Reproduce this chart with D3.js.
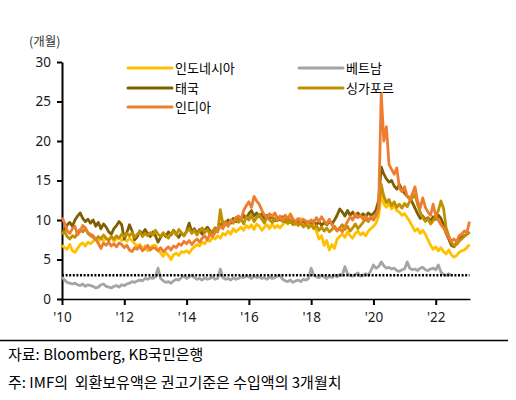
<!DOCTYPE html>
<html><head><meta charset="utf-8">
<script src="https://cdn.jsdelivr.net/npm/d3@7"></script>
<style>
html,body{margin:0;padding:0;background:#fff;}
svg{display:block;font-family:"Noto Sans CJK KR","Noto Sans",sans-serif;}
</style></head>
<body><svg id="c" width="516" height="400"></svg>
<script>
// Monthly data, starting Jan 2010
const startYear = 2010;
const indonesia = [
6.8,6.5,6.3,6.9,6.1,5.9,6.4,6.9,7.1,6.7,7.2,7.0,
7.3,7.6,7.2,7.8,7.4,7.7,7.5,7.9,7.3,7.6,7.8,7.4,
7.6,7.3,7.7,7.4,7.0,6.6,6.9,6.3,6.7,6.1,6.5,6.8,
6.8,6.2,5.8,5.4,5.9,5.5,5.0,5.6,5.8,5.5,6.0,5.9,
6.1,5.8,6.3,6.6,6.9,6.7,7.2,7.0,7.5,7.3,7.8,7.6,
8.0,7.7,8.3,8.1,8.6,8.2,8.9,8.5,8.8,9.1,8.7,9.3,
9.0,9.4,8.8,9.5,9.2,8.7,9.1,9.4,8.9,9.5,9.0,9.3,
9.0,9.4,9.8,9.5,10.8,10.0,9.4,9.8,10.2,9.6,9.9,9.5,
9.8,9.2,8.6,7.6,8.0,6.8,7.4,6.2,6.9,6.4,7.6,7.9,
8.2,7.8,8.5,8.0,7.7,8.3,8.6,8.1,8.4,8.0,8.6,8.9,
9.2,9.6,10.5,13.5,12.0,11.6,12.2,11.4,11.8,11.2,11.0,10.6,
10.8,10.3,9.8,9.2,8.6,8.9,8.3,8.7,8.2,7.5,6.8,6.3,
6.6,6.1,6.5,6.0,5.7,6.2,5.6,5.3,5.5,5.9,6.1,6.2,
6.5,6.9];
const vietnam = [
2.8,2.4,2.1,2.0,1.9,2.0,1.8,1.7,1.9,1.6,1.8,1.7,
1.6,1.4,1.5,1.8,1.9,1.6,1.5,1.4,1.6,1.7,1.5,1.8,
1.7,1.9,2.0,2.2,2.1,2.3,2.4,2.3,2.6,2.5,2.7,2.6,
2.8,3.9,2.6,2.3,2.1,2.2,2.0,2.3,2.5,2.4,2.7,2.9,
2.6,2.8,3.0,2.7,2.5,2.6,2.4,2.7,2.5,2.6,2.8,2.5,
2.6,3.8,2.7,2.5,2.6,2.4,2.7,2.5,2.6,2.8,2.7,2.9,
2.8,2.6,2.9,2.7,2.8,2.6,2.7,2.5,2.8,2.6,2.7,2.9,
3.0,2.5,2.3,2.2,2.4,2.1,2.3,2.4,2.2,2.5,2.4,2.6,
3.9,3.0,2.8,2.7,3.0,2.8,2.6,2.9,2.7,3.0,2.8,3.1,
3.0,4.1,3.2,3.0,2.9,3.1,3.3,2.9,3.0,3.2,3.0,3.6,
4.3,3.9,4.1,4.7,4.2,3.9,4.0,3.8,3.9,3.6,3.5,3.7,
3.8,4.7,3.9,3.7,3.8,3.6,3.9,4.0,3.7,3.6,3.8,3.9,
3.7,4.3,3.4,3.1,3.0,3.2,3.0];
const thailand = [
8.4,8.8,9.4,9.7,9.2,10.0,10.5,10.9,10.2,9.8,10.1,9.6,
10.0,9.2,9.7,8.9,9.5,9.1,8.5,8.2,8.9,9.3,9.8,9.4,
7.6,8.4,9.4,8.6,7.5,7.9,8.6,8.2,8.8,8.3,7.9,8.5,
8.0,7.2,7.8,8.3,7.9,8.5,8.1,8.7,8.2,7.8,8.4,8.0,
8.6,9.6,8.5,8.9,8.3,8.8,8.2,8.7,9.1,8.6,8.4,9.0,
8.7,9.3,9.8,9.4,10.0,9.6,10.2,9.8,10.4,10.0,10.6,10.2,
10.8,11.2,10.5,10.9,10.4,10.8,10.2,10.6,10.1,10.5,9.9,10.3,
10.0,10.4,9.8,10.2,9.7,10.1,9.6,10.0,9.5,9.9,9.6,9.8,
9.5,9.9,9.4,9.8,9.3,9.7,9.4,9.8,9.5,10.0,10.6,11.4,
11.0,10.5,11.2,10.6,11.0,10.4,10.9,10.5,10.8,10.4,10.9,10.6,
10.8,11.3,12.5,16.7,15.8,15.2,14.8,15.0,14.3,13.9,14.5,13.8,
13.4,13.0,12.8,12.2,11.5,10.8,10.2,10.5,10.0,10.3,9.9,10.4,
10.1,10.6,10.2,9.4,8.3,7.6,6.8,6.6,7.1,7.5,7.8,8.0,
8.2,8.5];
const singapore = [
8.2,8.5,7.9,7.6,8.0,7.8,8.4,8.8,8.5,8.9,8.3,8.0,
7.8,7.5,7.9,7.6,8.1,7.7,7.4,7.9,7.6,8.0,7.7,8.2,
7.9,8.3,8.0,8.4,7.8,8.2,8.5,7.9,8.3,8.0,8.4,8.1,
8.7,8.2,7.9,8.4,8.0,7.7,8.3,8.6,8.1,8.8,8.4,8.0,
8.5,8.9,8.3,8.7,8.1,8.6,9.0,8.4,8.8,8.2,8.6,8.9,
8.5,11.3,9.4,9.8,9.2,10.0,9.6,10.3,9.7,10.1,9.5,10.4,
10.0,10.6,9.8,10.3,10.7,10.1,9.6,10.4,10.0,9.7,10.2,9.9,
10.3,9.8,10.1,9.6,10.0,9.4,9.8,9.3,9.7,9.1,9.5,9.0,
9.4,8.9,9.3,8.7,9.1,8.6,9.0,8.5,8.8,9.2,8.7,9.0,
9.4,8.8,9.2,8.6,9.0,9.5,8.9,9.3,9.7,10.1,9.8,10.3,
10.0,10.5,11.5,14.5,13.0,12.2,12.6,11.8,12.3,11.6,12.0,11.5,
12.1,11.7,12.4,12.8,13.2,12.0,11.0,10.3,9.8,10.2,9.5,9.9,
10.4,11.2,12.4,11.5,9.0,8.0,7.2,6.7,6.9,7.3,7.6,7.9,
8.2,8.4];
const india = [
10.3,9.6,8.6,8.3,8.9,9.2,8.1,8.6,9.3,9.0,8.4,8.2,
8.0,7.6,7.0,6.4,7.1,6.8,7.2,6.7,7.0,6.6,7.1,6.9,
6.5,6.8,6.2,6.0,6.5,6.3,6.7,6.1,6.4,6.8,6.2,6.5,
6.4,6.1,6.5,6.0,6.3,6.6,6.2,6.7,6.5,7.0,6.8,7.3,
7.0,7.4,6.9,7.3,7.6,7.2,7.7,8.0,7.5,8.2,7.9,8.4,
8.8,9.2,8.9,9.6,9.3,10.0,9.7,10.3,10.5,10.1,11.2,11.8,
12.3,11.6,13.0,12.4,12.0,11.2,10.6,10.3,10.8,10.4,10.9,10.2,
10.5,10.0,10.6,10.2,10.7,10.1,9.8,10.2,9.7,10.1,9.8,9.6,
10.0,9.6,10.3,9.8,10.4,9.9,9.5,10.1,9.4,9.0,8.6,8.9,
8.5,9.2,9.8,10.4,10.0,10.8,10.3,10.6,10.1,10.5,10.0,10.4,
10.2,10.6,11.5,26.0,20.0,21.8,17.0,16.4,15.8,16.6,14.0,13.6,
14.2,13.0,12.6,13.3,14.2,12.4,11.5,12.8,11.6,11.0,10.6,12.0,
10.5,10.0,9.4,9.0,8.4,7.8,7.3,7.6,7.2,8.0,8.2,8.6,
8.4,9.8];
const imfLevel = [3, 3];           // IMF recommended: 3 months of imports
const imfSpan = [2010, 2023 + 1/12];
const yTicks = [0, 5, 10, 15, 20, 25, 30];
const xTicks = [2010, 2012, 2014, 2016, 2018, 2020, 2022];
const xTickLabels = ["'10", "'12", "'14", "'16", "'18", "'20", "'22"];

const series = [
  {name: "인도네시아", values: indonesia, color: "#FFC000"},
  {name: "베트남", values: vietnam, color: "#A5A5A5"},
  {name: "태국", values: thailand, color: "#7F6000"},
  {name: "싱가포르", values: singapore, color: "#BF9000"},
  {name: "인디아", values: india, color: "#ED7D31"}
];

const svg = d3.select("#c");
const x = d3.scaleLinear().domain([2010, 2023.1]).range([62, 470]);
const y = d3.scaleLinear().domain([0, 30]).range([299, 62]);
const ink = "#1a1a1a";

// y axis
const yAxis = svg.append("g").attr("transform", "translate(62,0)")
  .call(d3.axisLeft(y).tickValues(yTicks).tickSize(5).tickPadding(6).tickSizeOuter(0));
yAxis.select(".domain").attr("stroke", "#000").attr("stroke-width", 2);
yAxis.selectAll(".tick line").attr("stroke", "#000").attr("stroke-width", 2);
yAxis.selectAll("text").attr("font-size", 13.5).attr("fill", ink)
  .attr("font-family", "'Noto Sans','Noto Sans CJK KR',sans-serif");

// series lines
const line = d3.line()
  .x((d, i) => x(startYear + i / 12))
  .y(d => y(d));
series.forEach(s => {
  svg.append("path").datum(s.values)
    .attr("d", line).attr("fill", "none")
    .attr("stroke", s.color).attr("stroke-width", 2.8)
    .attr("stroke-linejoin", "round");
});

// IMF threshold dotted line
svg.append("path")
  .datum(imfSpan.map((t, i) => [t, imfLevel[i]]))
  .attr("d", d3.line().x(d => x(d[0])).y(d => y(d[1])))
  .attr("fill", "none").attr("stroke", "#000")
  .attr("stroke-width", 2.4).attr("stroke-dasharray", "2,1.6");

// x axis
const xAxis = svg.append("g").attr("transform", "translate(0,299)")
  .call(d3.axisBottom(x).tickValues(xTicks).tickFormat((d, i) => xTickLabels[i])
    .tickSize(6).tickPadding(7).tickSizeOuter(0));
xAxis.select(".domain").attr("stroke", "#000").attr("stroke-width", 1.6);
xAxis.selectAll(".tick line").attr("stroke", "#000").attr("stroke-width", 2);
xAxis.selectAll("text").attr("font-size", 13.5).attr("fill", ink)
  .attr("font-family", "'Noto Sans','Noto Sans CJK KR',sans-serif");

// unit label
svg.append("text").attr("x", 29).attr("y", 46).text("(개월)")
  .attr("font-size", 12.5).attr("fill", "#333");

// legend
const legendPos = [
  {lx: 128, ly: 68}, {lx: 299, ly: 68},
  {lx: 128, ly: 88}, {lx: 299, ly: 88},
  {lx: 128, ly: 107}
];
series.forEach((s, i) => {
  const p = legendPos[i];
  svg.append("line").attr("x1", p.lx).attr("x2", p.lx + 44)
    .attr("y1", p.ly).attr("y2", p.ly)
    .attr("stroke", s.color).attr("stroke-width", 3).attr("stroke-linecap", "round");
  svg.append("text").attr("x", p.lx + 47).attr("y", p.ly + 4.5)
    .text(s.name).attr("font-size", 13).attr("fill", "#000");
});

// separator and notes
svg.append("line").attr("x1", 0).attr("x2", 508).attr("y1", 340.5).attr("y2", 340.5)
  .attr("stroke", "#000").attr("stroke-width", 1.3);
svg.append("text").attr("x", 8).attr("y", 360).text("자료: Bloomberg, KB국민은행")
  .attr("font-size", 15).attr("fill", "#000");
svg.append("text").attr("x", 8).attr("y", 388).text("주: IMF의  외환보유액은 권고기준은 수입액의 3개월치")
  .attr("font-size", 15).attr("fill", "#000").attr("xml:space", "preserve").style("white-space", "pre");
</script>
</body></html>
